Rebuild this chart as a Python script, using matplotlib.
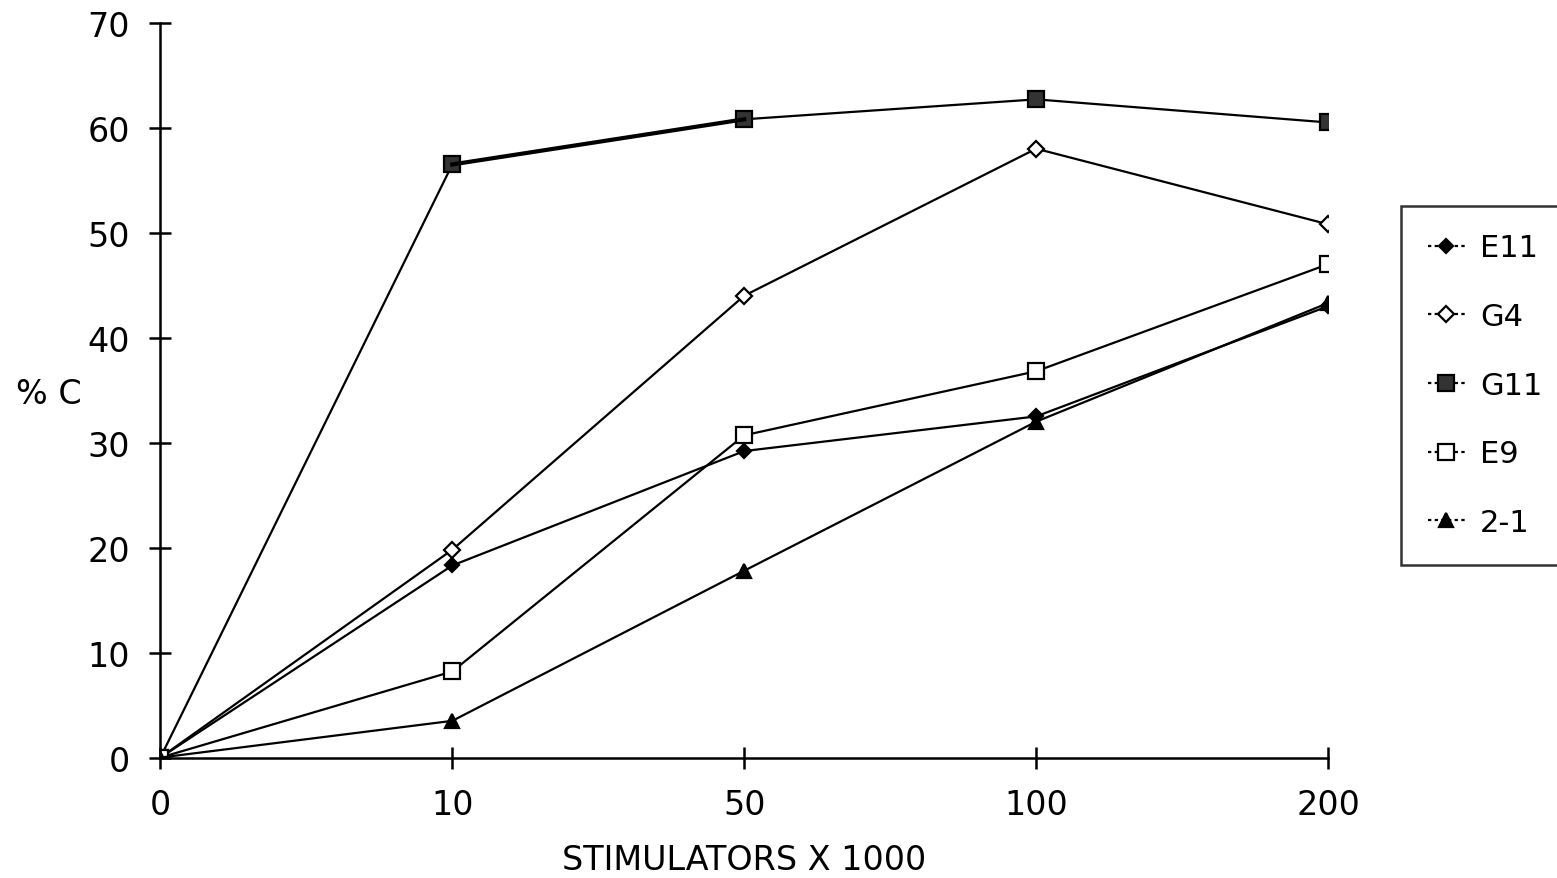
import matplotlib.pyplot as plt

# Données
doses = ['0', '10', '50', '100', '200']
e11 = [0, 18.3, 29.2, 32.5, 43.0]
g4 = [0, 19.8, 44.0, 58.0, 50.8]
g11 = [0, 56.5, 60.8, 62.7, 60.5]
e9 = [0, 8.2, 30.7, 36.8, 47.0]
c21 = [0, 3.5, 17.8, 32.0, 43.3]

plt.rcParams['font.family'] = 'DejaVu Sans'

fig = plt.figure(figsize=(15.57, 8.79), dpi=100)
ax = fig.add_axes([0.103, 0.137, 0.750, 0.836])

x = range(len(doses))
base = dict(color='black', lw=1.6, mew=1.6)
ax.plot(x, e11, marker='D', mfc='black', ms=7, label='E11', **base)
ax.plot(x, g4, marker='D', mfc='white', ms=8.5, label='G4', **base)
ax.plot(x, g11, marker='s', mfc='#333333', ms=11, label='G11', **base)
ax.plot(x, e9, marker='s', mfc='white', ms=11, label='E9', **base)
ax.plot(x, c21, marker='^', mfc='black', ms=10, label='2-1', **base)
# segment plus épais
ax.plot(x[1:3], g11[1:3], color='black', lw=3)

ax.set_xlim(0, 4)
ax.set_ylim(0, 70)
ax.set_xticks(list(x))
ax.set_xticklabels(doses)
ax.set_yticks(range(0, 71, 10))
ax.spines['top'].set_visible(False)
ax.spines['right'].set_visible(False)
ax.spines['left'].set_linewidth(1.8)
ax.spines['bottom'].set_linewidth(1.8)
ax.tick_params(axis='both', direction='inout', length=16, width=1.8, labelsize=24)
ax.tick_params(axis='x', pad=14)
ax.tick_params(axis='y', pad=14)

ax.set_xlabel('STIMULATORS X 1000', fontsize=24, labelpad=16)
fig.text(0.01, 0.551, '% C', fontsize=24, ha='left', va='center')

leg = ax.legend(loc='upper left', bbox_to_anchor=(1.062, 0.751), fontsize=22,
                frameon=True, fancybox=False, edgecolor='black',
                handlelength=1.2, labelspacing=1.3, borderpad=0.9,
                handletextpad=0.5, borderaxespad=0)
leg.get_frame().set_linewidth(1.8)
for h in leg.get_lines():
    h.set_linestyle((0, (1.5, 1.5)))

plt.savefig('out.png', dpi=100)
